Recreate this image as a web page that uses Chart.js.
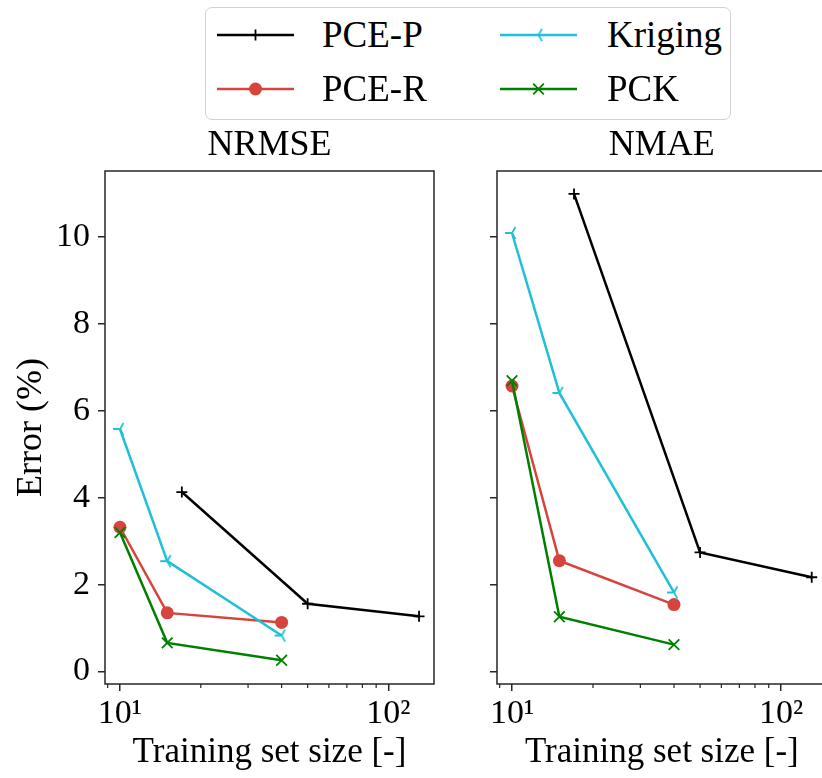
<!DOCTYPE html>
<html>
<head>
<meta charset="utf-8">
<script src="https://cdn.jsdelivr.net/npm/chart.js@4.4.1/dist/chart.umd.min.js"></script>
<style>
  html, body { margin: 0; padding: 0; background: #fff; overflow: hidden; }
  #wrap { position: relative; width: 822px; height: 778px; overflow: hidden; font-family: "Liberation Serif", "DejaVu Serif", serif; }
  canvas.panel { position: absolute; top: 100px; }
  #legend { position: absolute; left: 205px; top: 7px; width: 524px; height: 111px; border: 1.5px solid #d2d2d2; border-radius: 7px; background: rgba(255,255,255,0.8); }
  .lg-line { position: absolute; }
  .lg-text { position: absolute; font-size: 37px; line-height: 40px; color: #000; white-space: nowrap; }
</style>
</head>
<body>
<div id="wrap">
  <div id="legend"></div>
  <canvas id="chartNrmse" class="panel" width="460" height="678" style="left:0px"></canvas>
  <canvas id="chartNmae" class="panel" width="376" height="678" style="left:460px"></canvas>
</div>
<script>
// Error (%) vs training set size, two panels sharing the y range

const X_SMALL = [10, 15, 40];
const X_PCEP = [17, 50, 130];

const NRMSE_PCEP = [4.13, 1.56, 1.27];
const NRMSE_PCER = [3.32, 1.35, 1.13];
const NRMSE_KRIG = [5.58, 2.54, 0.83];
const NRMSE_PCK  = [3.20, 0.66, 0.26];

const NMAE_PCEP = [10.99, 2.74, 2.17];
const NMAE_PCER = [6.57, 2.55, 1.54];
const NMAE_KRIG = [10.09, 6.41, 1.82];
const NMAE_PCK  = [6.69, 1.26, 0.62];

const Y_TICKS = [0, 2, 4, 6, 8, 10];
const X_MAJOR = [10, 100];
const X_LABELS = ['10¹', '10²'];
const X_MINOR = [9, 20, 30, 40, 50, 60, 70, 80, 90];

const FONT = '"Liberation Serif", "DejaVu Serif", serif';
const AX = '#262626';

const COLORS = { pcep: '#000000', pcer: '#d7443e', krig: '#1fc0d8', pck: '#008000' };

// tri_left marker (matplotlib '3')
function triLeft(color) {
  const c = document.createElement('canvas');
  c.width = 18; c.height = 18;
  const g = c.getContext('2d');
  g.strokeStyle = color; g.lineWidth = 1.8;
  g.beginPath();
  g.moveTo(9, 9); g.lineTo(2, 9);
  g.moveTo(9, 9); g.lineTo(12.5, 2.9);
  g.moveTo(9, 9); g.lineTo(12.5, 15.1);
  g.stroke();
  return c;
}
const TRI = triLeft(COLORS.krig);

function pts(xs, ys) { return xs.map((x, i) => ({ x, y: ys[i] })); }

function datasets(pcep, pcer, krig, pck) {
  return [
    { label: 'PCE-P', data: pts(X_PCEP, pcep), borderColor: COLORS.pcep, pointStyle: 'cross',
      pointRadius: 5.5, pointBorderWidth: 1.8, pointBorderColor: COLORS.pcep, order: 4 },
    { label: 'PCE-R', data: pts(X_SMALL, pcer), borderColor: COLORS.pcer, pointStyle: 'circle',
      pointRadius: 6.5, pointBorderWidth: 0, pointBackgroundColor: COLORS.pcer, order: 3 },
    { label: 'Kriging', data: pts(X_SMALL, krig), borderColor: COLORS.krig, pointStyle: TRI,
      pointRadius: 7, order: 2 },
    { label: 'PCK', data: pts(X_SMALL, pck), borderColor: COLORS.pck, pointStyle: 'crossRot',
      pointRadius: 7.5, pointBorderWidth: 1.8, pointBorderColor: COLORS.pck, order: 1 }
  ];
}

// axis range like matplotlib's 5% margins
const Y_MIN = -0.2865, Y_MAX = 11.5165;
const X_MIN = 8.795, X_MAX = 147.8;

const framePlugin = {
  id: 'frame',
  afterDraw(chart) {
    const { ctx, chartArea: a } = chart;
    const x = chart.scales.x;
    ctx.save();
    ctx.strokeStyle = AX; ctx.lineWidth = 1.5;
    ctx.strokeRect(a.left, a.top, a.right - a.left, a.bottom - a.top);
    ctx.lineWidth = 1.2;
    X_MINOR.forEach(v => {
      if (v < x.min || v > x.max) return;
      const px = x.getPixelForValue(v);
      ctx.beginPath(); ctx.moveTo(px, a.bottom); ctx.lineTo(px, a.bottom + 4); ctx.stroke();
    });
    ctx.restore();
  }
};

function makePanel(id, title, ds, isLeft) {
  const gridOpts = { drawOnChartArea: false, drawTicks: true, tickLength: 7, color: AX, lineWidth: 1.5 };
  return new Chart(document.getElementById(id), {
    type: 'line',
    data: { datasets: ds },
    options: {
      responsive: false, animation: false,
      layout: { padding: { left: 0, right: isLeft ? 26 : 0, top: 0, bottom: 0 } },
      plugins: { legend: { display: false }, tooltip: { enabled: false } },
      elements: { line: { borderWidth: 2.5, tension: 0, fill: false } },
      scales: {
        x: {
          type: 'logarithmic', position: 'bottom', min: X_MIN, max: X_MAX,
          afterBuildTicks: s => { s.ticks = X_MAJOR.map(v => ({ value: v })); },
          afterFit: s => { s.height = 94; },
          ticks: { callback: v => X_LABELS[X_MAJOR.indexOf(v)], font: { family: FONT, size: 34 }, color: '#000',
                   padding: 3, maxRotation: 0, autoSkip: false },
          grid: gridOpts,
          border: { display: false },
          title: { display: true, text: 'Training set size [-]', font: { family: FONT, size: 35 }, color: '#000',
                   padding: { top: 0, bottom: 4 } }
        },
        x2: {
          type: 'linear', position: 'top',
          afterFit: s => { s.height = 71; },
          ticks: { display: false }, grid: { display: false }, border: { display: false },
          title: { display: true, text: title, font: { family: FONT, size: 36 }, color: '#000',
                   padding: { top: 24, bottom: 0 } }
        },
        y: {
          type: 'linear', position: 'left', min: Y_MIN, max: Y_MAX,
          afterBuildTicks: s => { s.ticks = Y_TICKS.map(v => ({ value: v })); },
          afterFit: s => { s.width = isLeft ? 105 : 37; },
          ticks: { callback: v => isLeft ? String(v) : '', font: { family: FONT, size: 34 }, color: '#000', padding: 8 },
          grid: gridOpts,
          border: { display: false },
          title: { display: isLeft, text: 'Error (%)', font: { family: FONT, size: 36 }, color: '#000',
                   padding: { top: 10, bottom: 0 } }
        }
      }
    },
    plugins: [framePlugin]
  });
}

makePanel('chartNrmse', 'NRMSE', datasets(NRMSE_PCEP, NRMSE_PCER, NRMSE_KRIG, NRMSE_PCK), true);
makePanel('chartNmae', 'NMAE', datasets(NMAE_PCEP, NMAE_PCER, NMAE_KRIG, NMAE_PCK), false);

// ── legend (two columns, column-major like matplotlib) ──
const LEGEND = [
  { label: 'PCE-P', color: COLORS.pcep, marker: 'plus' },
  { label: 'PCE-R', color: COLORS.pcer, marker: 'dot' },
  { label: 'Kriging', color: COLORS.krig, marker: 'tri' },
  { label: 'PCK', color: COLORS.pck, marker: 'x' }
];
const wrap = document.getElementById('wrap');
LEGEND.forEach((it, i) => {
  const col = Math.floor(i / 2), row = i % 2;
  const lineX = col ? 500 : 217, textX = col ? 607 : 322;
  const cy = row ? 89 : 35;
  const c = document.createElement('canvas');
  c.width = 77; c.height = 20; c.className = 'lg-line';
  c.style.left = lineX + 'px'; c.style.top = (cy - 10) + 'px';
  const g = c.getContext('2d');
  g.strokeStyle = it.color; g.fillStyle = it.color; g.lineWidth = 2.5;
  g.beginPath(); g.moveTo(0, 10); g.lineTo(77, 10); g.stroke();
  const m = 38.5;
  g.lineWidth = 1.8;
  if (it.marker === 'plus') {
    g.beginPath(); g.moveTo(m, 4.5); g.lineTo(m, 15.5); g.moveTo(m - 5.5, 10); g.lineTo(m + 5.5, 10); g.stroke();
  } else if (it.marker === 'dot') {
    g.beginPath(); g.arc(m, 10, 6.5, 0, Math.PI * 2); g.fill();
  } else if (it.marker === 'tri') {
    g.drawImage(TRI, m - 9, 1);
  } else {
    const r = 5.3;
    g.beginPath(); g.moveTo(m - r, 10 - r); g.lineTo(m + r, 10 + r); g.moveTo(m - r, 10 + r); g.lineTo(m + r, 10 - r); g.stroke();
  }
  wrap.appendChild(c);
  const t = document.createElement('div');
  t.className = 'lg-text'; t.textContent = it.label;
  t.style.left = textX + 'px'; t.style.top = (cy - 20) + 'px';
  wrap.appendChild(t);
});
</script>
</body>
</html>
